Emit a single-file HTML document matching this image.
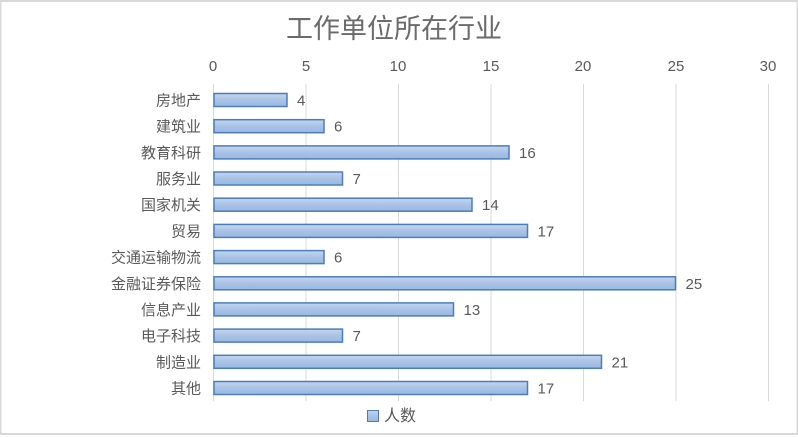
<!DOCTYPE html>
<html><head><meta charset="utf-8"><style>
body{margin:0;background:#fff}
svg{display:block}
text{font-family:"Liberation Sans","Noto Sans CJK SC",sans-serif;fill:#595959}
</style></head><body>
<svg width="798" height="437" xmlns="http://www.w3.org/2000/svg">
<defs><linearGradient id="g" x1="0" y1="0" x2="0" y2="1">
<stop offset="0" stop-color="#c5d6ee"/><stop offset="0.5" stop-color="#a9c2e6"/><stop offset="1" stop-color="#9bb8e2"/></linearGradient></defs>
<rect x="0.5" y="1" width="797" height="433" fill="#fff" stroke="#d9d9d9" stroke-width="2"/>
<text x="394" y="38" font-size="27" text-anchor="middle" style="fill:#6b6b6b">工作单位所在行业</text>
<g stroke="#d9d9d9" stroke-width="1">
<line x1="213.5" y1="84" x2="213.5" y2="401"/><line x1="306" y1="84" x2="306" y2="401"/><line x1="398.5" y1="84" x2="398.5" y2="401"/><line x1="491" y1="84" x2="491" y2="401"/><line x1="583.5" y1="84" x2="583.5" y2="401"/><line x1="676" y1="84" x2="676" y2="401"/><line x1="768.5" y1="84" x2="768.5" y2="401"/>
</g>
<g font-size="15" text-anchor="middle">
<text x="213" y="71">0</text><text x="306" y="71">5</text><text x="398" y="71">10</text><text x="491" y="71">15</text><text x="583" y="71">20</text><text x="676" y="71">25</text><text x="768" y="71">30</text>
</g>
<g fill="url(#g)" stroke="#4a7ebb" stroke-width="1.5">
<rect x="214" y="93.5" width="73" height="13"/>
<rect x="214" y="119.7" width="110" height="13"/>
<rect x="214" y="145.9" width="295" height="13"/>
<rect x="214" y="172" width="128.5" height="13"/>
<rect x="214" y="198.2" width="258" height="13"/>
<rect x="214" y="224.4" width="313.5" height="13"/>
<rect x="214" y="250.6" width="110" height="13"/>
<rect x="214" y="276.8" width="461.5" height="13"/>
<rect x="214" y="302.9" width="239.5" height="13"/>
<rect x="214" y="329.1" width="128.5" height="13"/>
<rect x="214" y="355.3" width="387.5" height="13"/>
<rect x="214" y="381.5" width="313.5" height="13"/>
</g>
<g font-size="15" text-anchor="end">
<text x="201" y="105.5">房地产</text>
<text x="201" y="131.7">建筑业</text>
<text x="201" y="157.9">教育科研</text>
<text x="201" y="184">服务业</text>
<text x="201" y="210.2">国家机关</text>
<text x="201" y="236.4">贸易</text>
<text x="201" y="262.6">交通运输物流</text>
<text x="201" y="288.8">金融证券保险</text>
<text x="201" y="314.9">信息产业</text>
<text x="201" y="341.1">电子科技</text>
<text x="201" y="367.3">制造业</text>
<text x="201" y="393.5">其他</text>
</g>
<g font-size="15">
<text x="297" y="105.5">4</text>
<text x="334" y="131.7">6</text>
<text x="519" y="157.9">16</text>
<text x="352.5" y="184">7</text>
<text x="482" y="210.2">14</text>
<text x="537.5" y="236.4">17</text>
<text x="334" y="262.6">6</text>
<text x="685.5" y="288.8">25</text>
<text x="463.5" y="314.9">13</text>
<text x="352.5" y="341.1">7</text>
<text x="611.5" y="367.3">21</text>
<text x="537.5" y="393.5">17</text>
</g>
<rect x="367.5" y="410.5" width="11" height="11" fill="url(#g)" stroke="#4a7ebb"/>
<text x="384" y="421" font-size="16">人数</text>
</svg>
</body></html>
